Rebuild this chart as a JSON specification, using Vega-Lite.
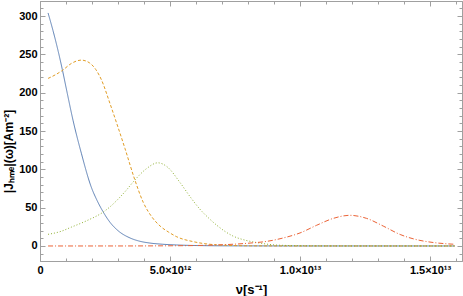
{
  "$schema": "https://vega.github.io/schema/vega-lite/v6.json",
  "width": 422,
  "height": 260,
  "autosize": {"type": "none"},
  "padding": {"left": 40, "top": 1, "right": 1, "bottom": 35},
  "background": "white",
  "config": {
    "view": {"stroke": "#a0a0a0", "strokeWidth": 1},
    "axis": {
      "labelFont": "Liberation Sans", "labelFontWeight": "bold", "labelColor": "black", "labelFontSize": 11,
      "titleFont": "Liberation Sans", "titleFontWeight": "bold", "titleColor": "black", "titleFontSize": 12,
      "domainColor": "#a0a0a0", "tickColor": "#a0a0a0", "grid": false,
      "labelOverlap": false, "labelFlush": false, "labelBound": false
    }
  },
  "data": {"values": [
    {"s":"a","nu":3.1e11,"J":304},{"s":"a","nu":5e11,"J":281},{"s":"a","nu":7e11,"J":254},{"s":"a","nu":8.6e11,"J":230},{"s":"a","nu":1.05e12,"J":199},{"s":"a","nu":1.27e12,"J":164},{"s":"a","nu":1.59e12,"J":121},{"s":"a","nu":1.97e12,"J":77},{"s":"a","nu":2.2e12,"J":59},{"s":"a","nu":2.42e12,"J":45},{"s":"a","nu":2.69e12,"J":31},{"s":"a","nu":3.0e12,"J":20},{"s":"a","nu":3.46e12,"J":10.5},{"s":"a","nu":3.8e12,"J":6.5},{"s":"a","nu":4.23e12,"J":3.8},{"s":"a","nu":4.7e12,"J":2.3},{"s":"a","nu":5.26e12,"J":1.3},{"s":"a","nu":6.15e12,"J":0.5},{"s":"a","nu":7.5e12,"J":0.15},{"s":"a","nu":1.0e13,"J":0.03},{"s":"a","nu":1.596e13,"J":0},
    {"s":"b","nu":3.1e11,"J":218.6},{"s":"b","nu":6e11,"J":223.5},{"s":"b","nu":8.6e11,"J":229},{"s":"b","nu":1.2e12,"J":238},{"s":"b","nu":1.59e12,"J":242.5},{"s":"b","nu":1.9e12,"J":239},{"s":"b","nu":2.15e12,"J":230},{"s":"b","nu":2.36e12,"J":217},{"s":"b","nu":2.69e12,"J":186},{"s":"b","nu":2.96e12,"J":159},{"s":"b","nu":3.27e12,"J":127},{"s":"b","nu":3.65e12,"J":86},{"s":"b","nu":3.97e12,"J":57},{"s":"b","nu":4.3e12,"J":38},{"s":"b","nu":4.62e12,"J":26},{"s":"b","nu":4.95e12,"J":18},{"s":"b","nu":5.26e12,"J":12},{"s":"b","nu":5.9e12,"J":5.6},{"s":"b","nu":6.8e12,"J":1.5},{"s":"b","nu":8.1e12,"J":0.2},{"s":"b","nu":1.0e13,"J":0.02},{"s":"b","nu":1.596e13,"J":0},
    {"s":"c","nu":3.1e11,"J":15.2},{"s":"c","nu":8e11,"J":19},{"s":"c","nu":1.2e12,"J":24.5},{"s":"c","nu":1.8e12,"J":33},{"s":"c","nu":2.42e12,"J":44},{"s":"c","nu":2.69e12,"J":51},{"s":"c","nu":3.0e12,"J":61},{"s":"c","nu":3.3e12,"J":72},{"s":"c","nu":3.62e12,"J":85},{"s":"c","nu":4.1e12,"J":101},{"s":"c","nu":4.53e12,"J":108.5},{"s":"c","nu":4.9e12,"J":103},{"s":"c","nu":5.38e12,"J":83},{"s":"c","nu":5.8e12,"J":63},{"s":"c","nu":6.15e12,"J":48},{"s":"c","nu":6.5e12,"J":36},{"s":"c","nu":6.8e12,"J":27},{"s":"c","nu":7.42e12,"J":13},{"s":"c","nu":7.9e12,"J":7.5},{"s":"c","nu":8.33e12,"J":4.5},{"s":"c","nu":9.2e12,"J":1.0},{"s":"c","nu":1.05e13,"J":0.15},{"s":"c","nu":1.2e13,"J":0.02},{"s":"c","nu":1.596e13,"J":0},
    {"s":"d","nu":3.1e11,"J":0},{"s":"d","nu":3e12,"J":0.02},{"s":"d","nu":5e12,"J":0.25},{"s":"d","nu":6e12,"J":0.6},{"s":"d","nu":7e12,"J":1.6},{"s":"d","nu":7.6e12,"J":2.6},{"s":"d","nu":8.08e12,"J":3.8},{"s":"d","nu":8.72e12,"J":6},{"s":"d","nu":9.36e12,"J":10.5},{"s":"d","nu":1.0e13,"J":17},{"s":"d","nu":1.064e13,"J":27},{"s":"d","nu":1.128e13,"J":36},{"s":"d","nu":1.192e13,"J":40},{"s":"d","nu":1.256e13,"J":36},{"s":"d","nu":1.32e13,"J":26},{"s":"d","nu":1.385e13,"J":15},{"s":"d","nu":1.449e13,"J":8.2},{"s":"d","nu":1.513e13,"J":4.5},{"s":"d","nu":1.596e13,"J":2.2}
  ]},
  "layer": [
    {
      "mark": {"type": "line", "interpolate": "monotone", "strokeWidth": 1, "clip": true},
      "encoding": {
        "x": {"field": "nu", "type": "quantitative", "scale": {"domain": [0, 1.623e13], "nice": false, "zero": false},
          "axis": {"orient": "bottom", "title": "ν[s⁻¹]", "titleFontSize": 13,
            "values": [0,1e12,2e12,3e12,4e12,5e12,6e12,7e12,8e12,9e12,1e13,1.1e13,1.2e13,1.3e13,1.4e13,1.5e13,1.6e13],
            "labelExpr": "datum.value === 0 ? '0' : datum.value === 5e12 ? '5.0×10¹²' : datum.value === 1e13 ? '1.0×10¹³' : datum.value === 1.5e13 ? '1.5×10¹³' : ''",
            "tickSize": {"condition": {"test": "datum.value % 5e12 === 0", "value": -5}, "value": -3},
            "labelPadding": 8, "titleY": 32, "titleBaseline": "alphabetic"}},
        "y": {"field": "J", "type": "quantitative", "scale": {"domain": [-19.6, 319.6], "nice": false, "zero": false},
          "axis": {"orient": "left", "title": "|Jₕₘₑ|(ω)[Am⁻²]",
            "values": [-10,0,10,20,30,40,50,60,70,80,90,100,110,120,130,140,150,160,170,180,190,200,210,220,230,240,250,260,270,280,290,300,310],
            "labelExpr": "datum.value % 50 === 0 ? datum.label : ''",
            "tickSize": {"condition": {"test": "datum.value % 50 === 0", "value": -5}, "value": -3},
            "labelPadding": 8, "titleX": -25, "titleY": 150}},
        "color": {"field": "s", "type": "nominal", "legend": null,
          "scale": {"domain": ["a","b","c","d"], "range": ["#5E81B5","#E19C24","#8FB032","#EB6235"]}},
        "strokeDash": {"field": "s", "type": "nominal", "legend": null,
          "scale": {"domain": ["a","b","c","d"], "range": [[1,0],[3,2],[1,2],[5,2,1,2]]}}
      }
    },
    {
      "mark": {"type": "line", "strokeOpacity": 0},
      "encoding": {
        "x": {"field": "nu", "type": "quantitative",
          "axis": {"orient": "top", "title": null, "labels": false,
            "values": [0,1e12,2e12,3e12,4e12,5e12,6e12,7e12,8e12,9e12,1e13,1.1e13,1.2e13,1.3e13,1.4e13,1.5e13,1.6e13],
            "tickSize": {"condition": {"test": "datum.value % 5e12 === 0", "value": -5}, "value": -3}}},
        "y": {"field": "J", "type": "quantitative",
          "axis": {"orient": "right", "title": null, "labels": false,
            "values": [-10,0,10,20,30,40,50,60,70,80,90,100,110,120,130,140,150,160,170,180,190,200,210,220,230,240,250,260,270,280,290,300,310],
            "tickSize": {"condition": {"test": "datum.value % 50 === 0", "value": -5}, "value": -3}}},
        "detail": {"field": "s"}
      }
    }
  ],
  "resolve": {"axis": {"x": "independent", "y": "independent"}}
}
